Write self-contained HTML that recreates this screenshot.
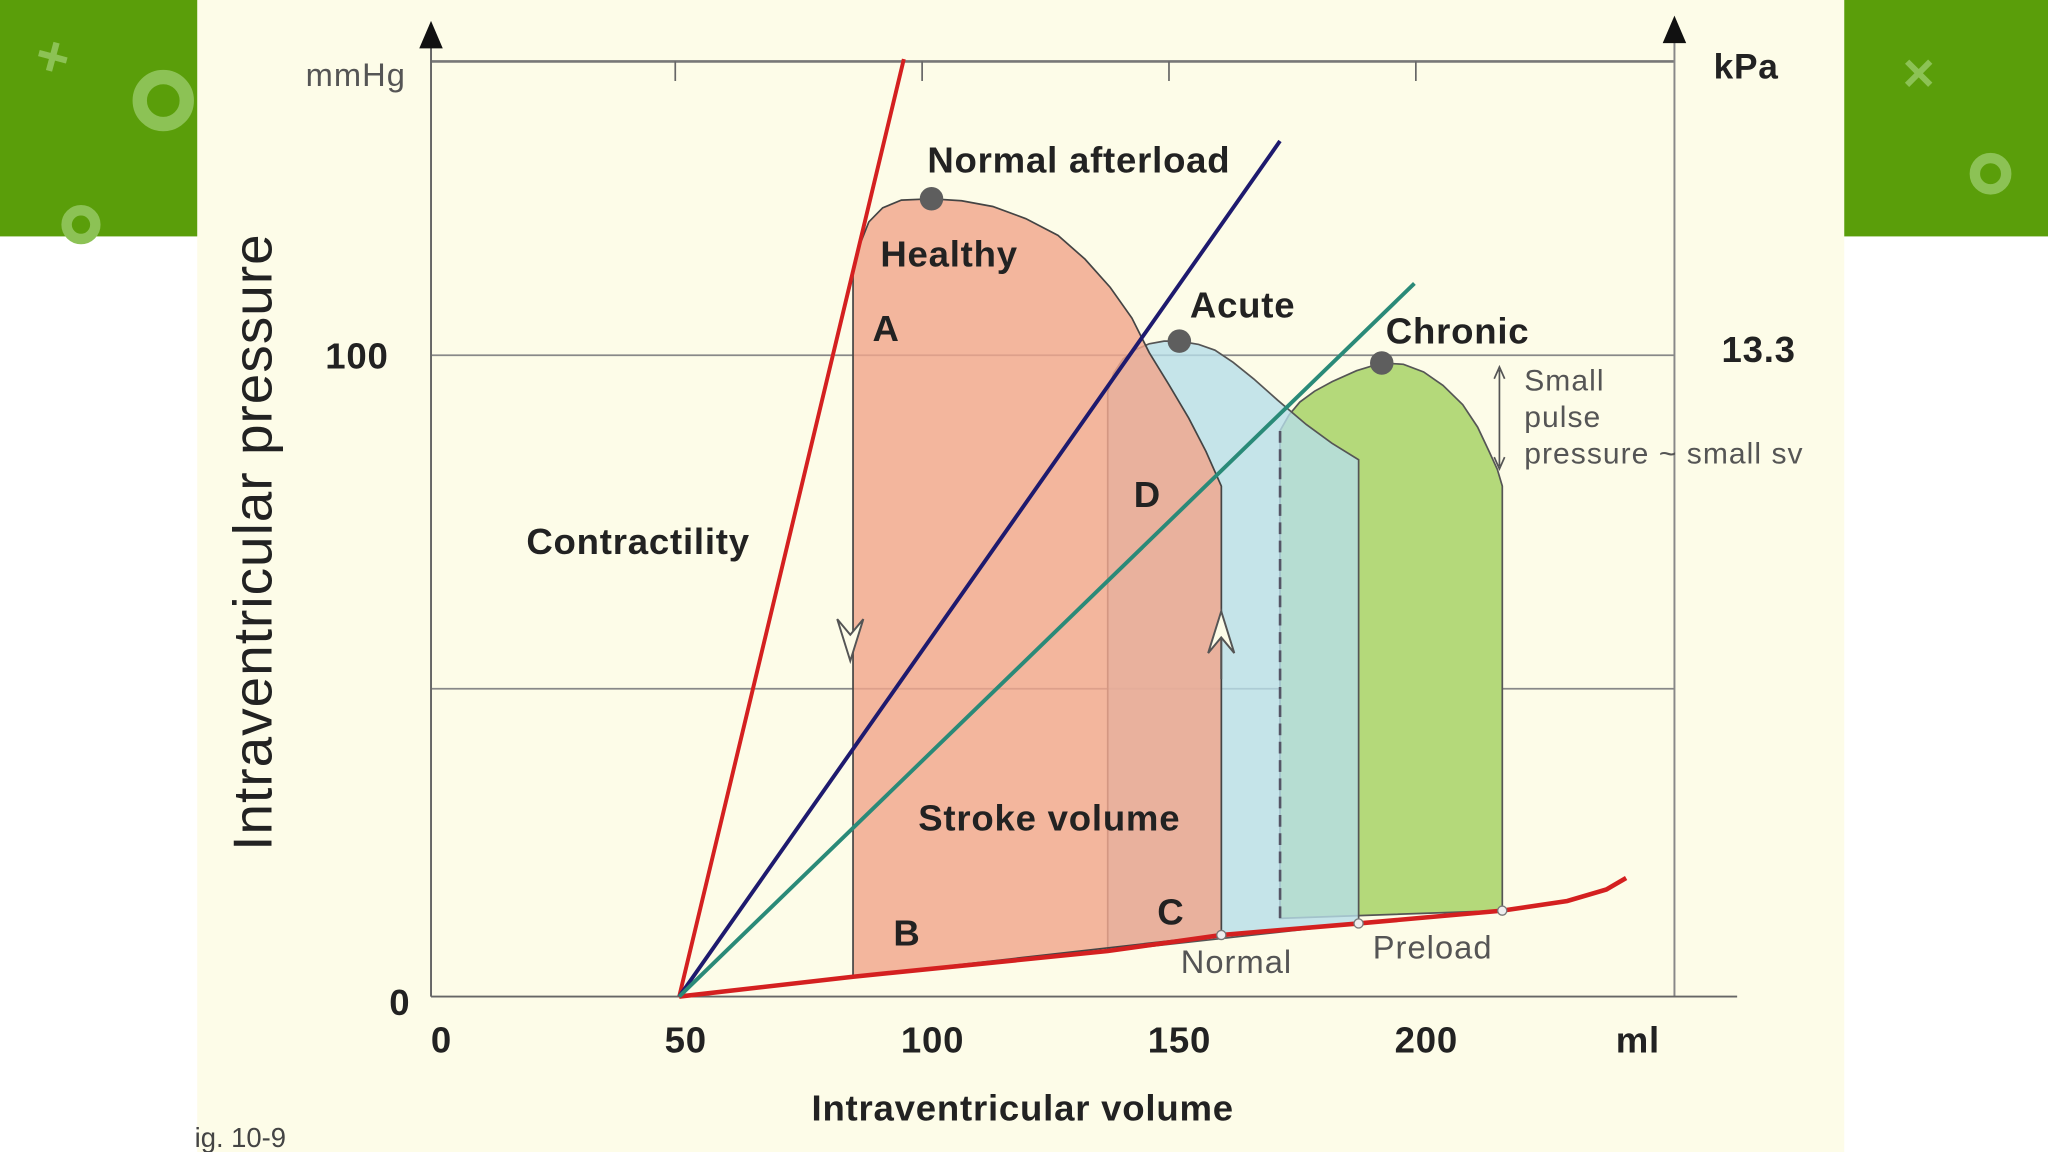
<!DOCTYPE html>
<html><head><meta charset="utf-8"><style>
html,body{margin:0;padding:0;background:#fff;}
svg{display:block;font-family:"Liberation Sans",Arial,sans-serif;}
#labels text.b, #xticks text{font-weight:bold;letter-spacing:0.6px;}
</style></head><body>
<svg id="chart" width="2048" height="1152" viewBox="0 0 1568 882" xmlns="http://www.w3.org/2000/svg">
<rect x="0" y="0" width="1568" height="882" fill="#ffffff"/>
<rect x="151" y="0" width="1261" height="882" fill="#fdfce8"/>
<g>
<rect x="0" y="0" width="151" height="181" fill="#5a9e0a"/>
<text x="40" y="58" font-size="44" font-weight="bold" fill="#8cc255" transform="rotate(15 40 45)" text-anchor="middle">+</text>
<circle cx="125" cy="77" r="18" fill="none" stroke="#8cc255" stroke-width="11"/>
<circle cx="62" cy="172" r="11" fill="none" stroke="#8cc255" stroke-width="8"/>
</g>
<g>
<rect x="1412" y="0" width="156" height="181" fill="#5a9e0a"/>
<text x="1469" y="70" font-size="42" font-weight="bold" fill="#8cc255" text-anchor="middle">×</text>
<circle cx="1524" cy="133" r="12" fill="none" stroke="#8cc255" stroke-width="8"/>
</g>
<g id="grid"></g>
<g id="loops"></g>
<g id="lines"></g>
<g id="labels" fill="#222" font-size="28">
<text class="b" x="710" y="132">Normal afterload</text>
<text class="b" x="674" y="204">Healthy</text>
<text class="b" x="668" y="261">A</text>
<text class="b" x="911" y="243">Acute</text>
<text class="b" x="1061" y="263">Chronic</text>
<text class="b" x="868" y="388">D</text>
<text class="b" x="403" y="424">Contractility</text>
<text class="b" x="703" y="636">Stroke volume</text>
<text class="b" x="886" y="708">C</text>
<text class="b" x="684" y="724">B</text>
<g fill="#555" font-size="23" letter-spacing="0.8">
<text><tspan x="1167" y="299">Small</tspan><tspan x="1167" y="327">pulse</tspan><tspan x="1167" y="355">pressure ~ small sv</tspan></text>
<text x="904" y="745" font-size="25">Normal</text>
<text x="1051" y="734" font-size="25">Preload</text>
<text x="234" y="66" font-size="25">mmHg</text>
</g>
<text class="b" x="249" y="282">100</text>
<text class="b" x="298" y="777">0</text>
<text class="b" x="1318" y="277">13.3</text>
<text class="b" x="1312" y="60" font-size="27">kPa</text>
<text class="b" x="1254" y="806" text-anchor="middle">ml</text>
<text class="b" x="783" y="858" text-anchor="middle" font-size="28">Intraventricular volume</text>
<text x="0" y="0" font-size="42" letter-spacing="0.8" text-anchor="middle" transform="translate(208 415) rotate(-90)">Intraventricular pressure</text>
<text x="149" y="878" font-size="21" fill="#444">ig. 10-9</text>
</g>
<g id="xticks" fill="#222" font-size="28"></g>
</svg>
<script>
const xTickValues = [0, 50, 100, 150, 200];
const xTickLabels = ["0", "50", "100", "150", "200"];
const healthyVol = [86, 86, 87.5, 89.2, 92, 95.8, 101.9, 108, 114.3, 121, 127.5, 133, 138.1, 142.5, 146, 150, 154, 157.5, 160.6, 160.6];
const healthyPres = [3.1, 112.6, 117.5, 120.8, 123, 124.2, 124.4, 124.1, 123.2, 121.3, 118.7, 115, 110.6, 105.8, 100.4, 95.4, 90.2, 85, 79.6, 9.6];
const acuteVol = [137.6, 137.6, 138.8, 140.7, 143, 146, 149, 152.1, 156, 159.3, 163, 167.2, 172, 177.8, 183, 188.4, 188.4];
const acutePres = [7.1, 94.3, 97.2, 99.4, 100.8, 101.8, 102.2, 102.2, 101.7, 100.8, 98.9, 96.3, 93, 89.2, 86.3, 83.7, 11.4];
const chronicVol = [172.5, 172.5, 174.3, 176.5, 179.5, 183.1, 188, 193.1, 197.5, 201.6, 205.5, 209.5, 212.5, 214.8, 216.5, 217.5, 217.5];
const chronicPres = [12.2, 88.2, 90.7, 92.7, 94.4, 95.9, 97.6, 98.8, 98.6, 97.4, 95.3, 92.3, 88.8, 85.1, 82.2, 79.6, 13.4];
const edpvrVol = [50.8, 86, 137.6, 160.6, 188.4, 217.5, 230.7, 238.6, 242.6];
const edpvrPres = [0, 3.1, 7.1, 9.6, 11.4, 13.4, 14.9, 16.7, 18.5];
const contractVol = [50.8, 96.3];
const contractPres = [0, 146.2];
const afterloadVol = [50.8, 172.5];
const afterloadPres = [0, 133.4];
const chronicAfterVol = [50.8, 199.7];
const chronicAfterPres = [0, 111.2];
const peakVol = [101.9, 152.1, 193.1];
const peakPres = [124.4, 102.2, 98.8];

const NS = "http://www.w3.org/2000/svg";
function X(v){ return 517 + (v - 50) * 3.78; }
function Y(p){ return 763 - p * 4.91; }
function mk(tag, parent, attrs){ const e = document.createElementNS(NS, tag); for (const k in attrs) e.setAttribute(k, attrs[k]); parent.appendChild(e); return e; }
function pts(vs, ps){ return vs.map((v,i)=>X(v).toFixed(1)+","+Y(ps[i]).toFixed(1)).join(" "); }

const grid = document.getElementById("grid");
let e;
e = mk("line", grid, {x1:330,y1:47,x2:1282,y2:47,stroke:"#777","stroke-width":2});


e = mk("line", grid, {x1:330,y1:Y(100),x2:1282,y2:Y(100),stroke:"#888","stroke-width":1.3});


e = mk("line", grid, {x1:330,y1:Y(48),x2:1282,y2:Y(48),stroke:"#888","stroke-width":1.3});


e = mk("line", grid, {x1:330,y1:30,x2:330,y2:763,stroke:"#666","stroke-width":1.5});


e = mk("line", grid, {x1:1282,y1:28,x2:1282,y2:763,stroke:"#888","stroke-width":1.5});


e = mk("line", grid, {x1:330,y1:763,x2:1330,y2:763,stroke:"#666","stroke-width":1.5});


e = mk("polygon", grid, {points:"330,16 321,37 339,37",fill:"#111"});


e = mk("polygon", grid, {points:"1282,12 1273,33 1291,33",fill:"#111"});


[50,100,150,200].forEach(v=>{
  const t = mk("line", grid, {x1:X(v),y1:47,x2:X(v),y2:62,stroke:"#666","stroke-width":1.3});
  
  
});

const loops = document.getElementById("loops");
e = mk("polygon", loops, {points:pts(chronicVol, chronicPres), fill:"#b4d97a", stroke:"#555", "stroke-width":1.3});


e = mk("polygon", loops, {points:pts(acuteVol, acutePres), fill:"#b7dde8", "fill-opacity":0.8, stroke:"#555", "stroke-width":1.3});


e = mk("polygon", loops, {points:pts(healthyVol, healthyPres), fill:"#f0a68c", "fill-opacity":0.82, stroke:"#444", "stroke-width":1.3});


e = mk("line", loops, {x1:X(172.5),y1:Y(88.2),x2:X(172.5),y2:Y(12.2),stroke:"#556","stroke-width":2,"stroke-dasharray":"9 5"});



const lines = document.getElementById("lines");
e = mk("polyline", lines, {points:pts(edpvrVol, edpvrPres), fill:"none", stroke:"#d42020", "stroke-width":3.5});


e = mk("polyline", lines, {points:pts(contractVol, contractPres), fill:"none", stroke:"#d42020", "stroke-width":3});


e = mk("polyline", lines, {points:pts(afterloadVol, afterloadPres), fill:"none", stroke:"#1e1a6e", "stroke-width":3});


e = mk("polyline", lines, {points:pts(chronicAfterVol, chronicAfterPres), fill:"none", stroke:"#2a8a78", "stroke-width":3});


peakVol.forEach((v,i)=>{
  const c = mk("circle", lines, {cx:X(v), cy:Y(peakPres[i]), r:9, fill:"#5e5e5e"});
  
  
});
e = mk("path", lines, {d:"M641,474 L651,506 L661,474 L651,486 Z", fill:"#fdfce8", stroke:"#555","stroke-width":1.5});


e = mk("path", lines, {d:"M925,500 L935,468 L945,500 L935,488 Z M935,488 L935,520", fill:"#fdfce8", stroke:"#555","stroke-width":1.5});


e = mk("path", lines, {d:"M1148,283 L1148,357 M1144,290 L1148,281 L1152,290 M1144,350 L1148,359 L1152,350", fill:"none", stroke:"#555","stroke-width":1.3});


[160.6,188.4,217.5].forEach((v,i)=>{
  const c = mk("circle", lines, {cx:X(v), cy:Y([9.6,11.4,13.4][i]), r:3.5, fill:"#eee", stroke:"#777"});
  
  
});

const xt = document.getElementById("xticks");
xTickValues.forEach((v,i)=>{
  const t = mk("text", xt, {x:(v===0?338:X(v)+8), y:806, "text-anchor":"middle"});
  t.textContent = xTickLabels[i];
  
  
});
</script>
</body></html>
